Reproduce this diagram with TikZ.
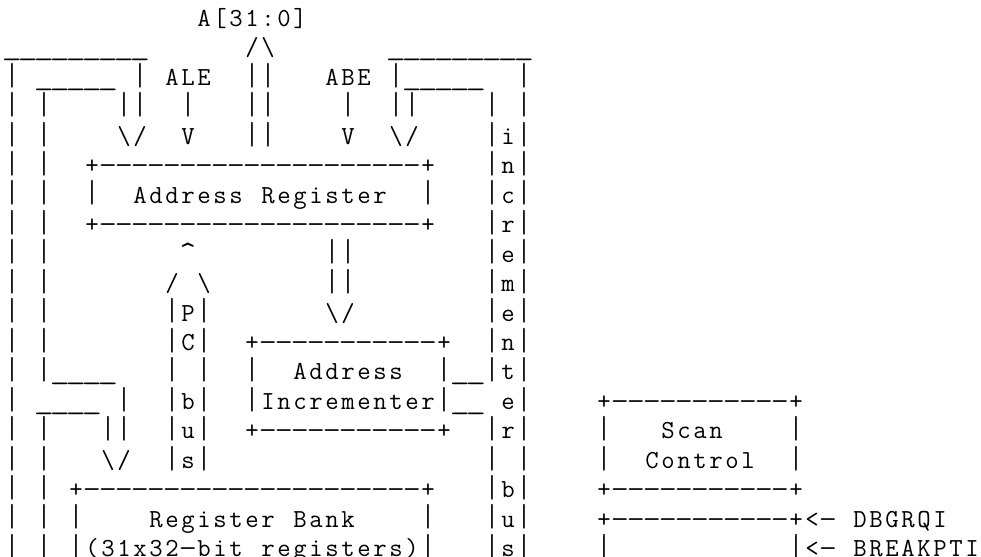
\documentclass[tikz,border=0pt]{standalone}
\usepackage{graphicx}

% fixed character grid: one cell is 16 units wide, one line is 29.45 units high
\newlength\cellw
\setlength\cellw{8pt}
\newcommand\asciifont{\ttfamily\fontsize{13pt}{14pt}\selectfont}
\newcommand\us{\scalebox{1.5}[1]{\_}}
\newcommand\bs{\textbackslash}
\newcommand\caret{\scalebox{1.2}{\textasciicircum}}
% bars reach most of a line, dashes are widened
\newcommand\vb{\raisebox{-1.2pt}{\resizebox*{\width}{12.4pt}{\raisebox{\depth}{|}}}}
\newcommand\dsh{\scalebox{1.35}[1]{-}}

% set every token of #1 in its own cell of width \cellw
\def\cellsend{cells-end-marker}
\newcommand\cells[1]{\cellsloop#1\cellsend}
\def\cellsloop#1{\ifx#1\cellsend\else\makebox[\cellw][c]{\cellglyph#1}\expandafter\cellsloop\fi}
\def\cellglyph#1{\ifx#1|\vb\else\ifx#1-\dsh\else#1\fi\fi}

\tikzset{cellrow/.style={anchor=base west, inner sep=0pt, outer sep=0pt, font=\asciifont}}

% \txt{row}{column}{characters}
\newcommand\txt[3]{\node[cellrow] (t#1-#2) at ({4+16*#2},{26.5+29.45*(#1-1)}) {\cells{#3}};}

\begin{document}
\begin{tikzpicture}[x=0.5pt,y=-0.5pt]
\fill[white] (0,0) rectangle (981,557);
\useasboundingbox (0,0) rectangle (981,557);

% outer wires on the left
\foreach \r in {4,...,19} {\txt{\r}{0}{|}}
\foreach \r in {4,...,12,15,16,17,18,19} {\txt{\r}{2}{|}}

% incrementer bus on the right
\foreach \r in {4,...,13,15,16,17,18,19} {\txt{\r}{30}{|}}
\foreach \r in {3,...,19} {\txt{\r}{32}{|}}
\foreach \r/\ch in {5/i,6/n,7/c,8/r,9/e,10/m,11/e,12/n,13/t,14/e,15/r,17/b,18/u,19/s} {\txt{\r}{31}{\ch}}

% address bus and control inputs
\txt{1}{12}{A[31:0]}
\txt{2}{0}{\us\us\us\us\us\us\us\us\us}
\txt{2}{15}{/\bs}
\txt{2}{24}{\us\us\us\us\us\us\us\us\us}
\txt{3}{0}{|}
\txt{3}{2}{\us\us\us\us\us}
\txt{3}{8}{|}
\txt{3}{10}{ALE}
\txt{3}{15}{||}
\txt{3}{20}{ABE}
\txt{3}{24}{|\us\us\us\us\us}
\txt{4}{7}{||}
\txt{4}{11}{|}
\txt{4}{15}{||}
\txt{4}{21}{|}
\txt{4}{24}{||}
\txt{5}{7}{\bs/}
\txt{5}{11}{V}
\txt{5}{15}{||}
\txt{5}{21}{V}
\txt{5}{24}{\bs/}

% address register
\txt{6}{5}{+--------------------+}
\txt{7}{5}{|}
\txt{7}{8}{Address~Register}
\txt{7}{26}{|}
\txt{8}{5}{+--------------------+}

% PC bus and path to the incrementer
\txt{9}{11}{\caret}
\txt{9}{20}{||}
\txt{10}{10}{/~\bs}
\txt{10}{20}{||}
\txt{11}{10}{|P|}
\txt{11}{20}{\bs/}
\txt{12}{10}{|C|}
\txt{13}{10}{|~|}
\txt{14}{10}{|b|}
\txt{15}{10}{|u|}
\txt{16}{10}{|s|}

% address incrementer
\txt{12}{15}{+-----------+}
\txt{13}{15}{|}
\txt{13}{18}{Address}
\txt{13}{27}{|\us\us}
\txt{14}{15}{|Incrementer|\us\us}
\txt{15}{15}{+-----------+}

% feeds into the register bank
\txt{13}{2}{|\us\us\us\us}
\txt{14}{2}{\us\us\us\us}
\txt{14}{7}{|}
\txt{15}{6}{||}
\txt{16}{6}{\bs/}

% register bank
\txt{17}{4}{+---------------------+}
\txt{18}{4}{|}
\txt{18}{9}{Register~Bank}
\txt{18}{26}{|}
\txt{19}{4}{|(31x32-bit~registers)|}

% scan control and debug block
\txt{14}{37}{+-----------+}
\txt{15}{37}{|}
\txt{15}{41}{Scan}
\txt{15}{49}{|}
\txt{16}{37}{|}
\txt{16}{40}{Control}
\txt{16}{49}{|}
\txt{17}{37}{+-----------+}
\txt{18}{37}{+-----------+<-~DBGRQI}
\txt{19}{37}{|}
\txt{19}{49}{|<-~BREAKPTI}
\end{tikzpicture}
\end{document}
